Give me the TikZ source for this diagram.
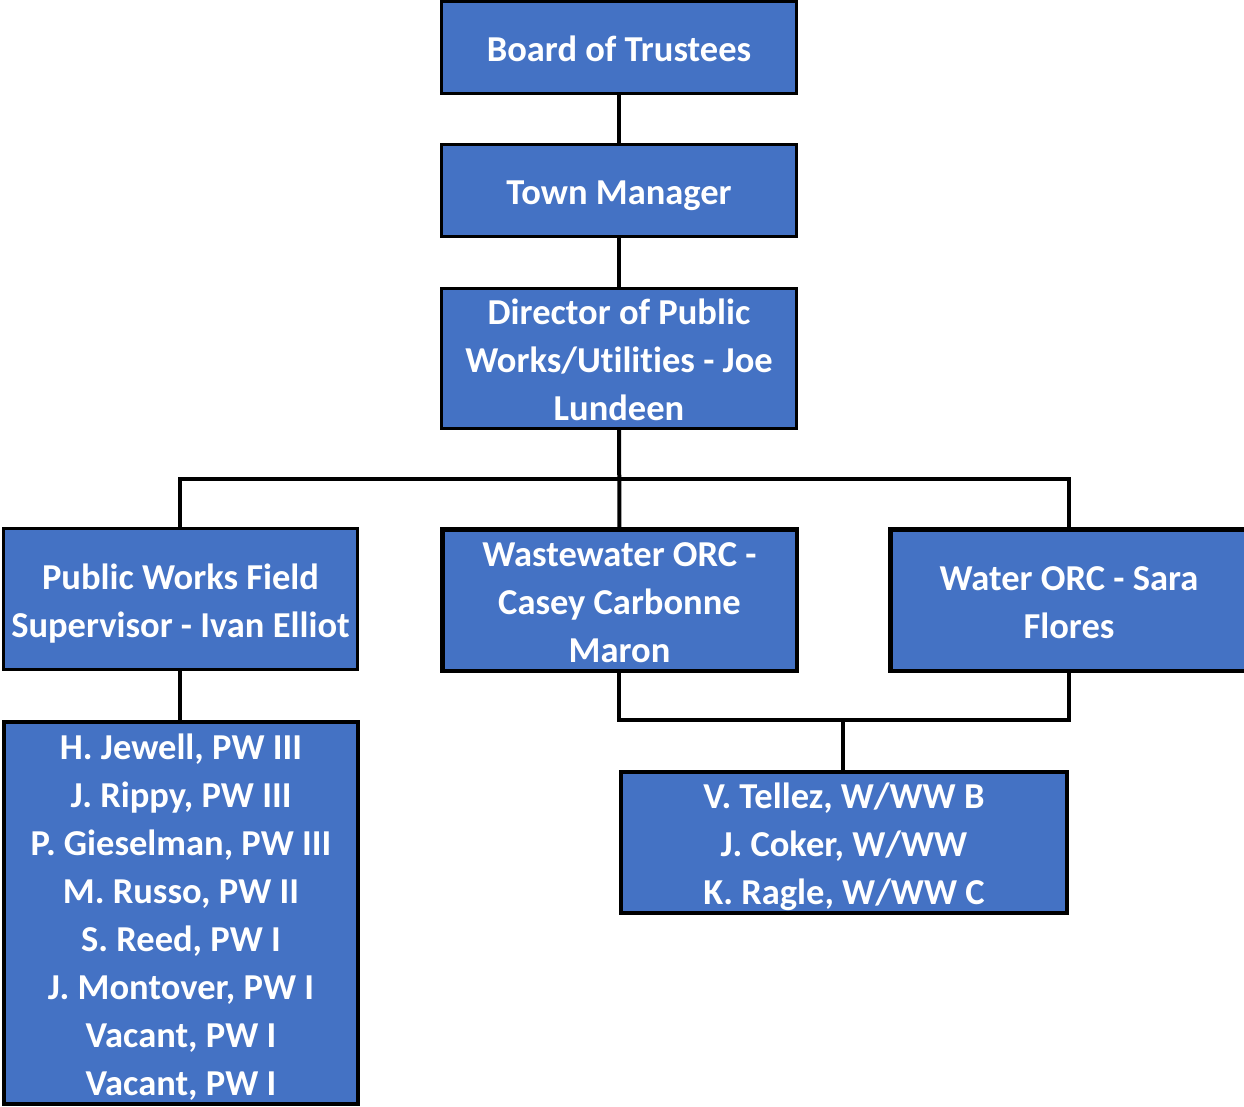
\documentclass[tikz,border=0pt]{standalone}
\usepackage{fontspec}
\setmainfont{Carlito}[Ligatures=NoCommon]
\definecolor{boxblue}{HTML}{4472C4}
% fixed line metrics: a tall strut on the first line, a deep one on the last,
% so every box centres its text by its lines and not by the glyphs' ink
\newcommand{\orgtop}{\rule{0pt}{40.4pt}}
\newcommand{\orgbot}{\rule[-12pt]{0pt}{12pt}}
\begin{document}
\begin{tikzpicture}[x=1pt,y=-1pt,
  orgbox/.style={draw=black, line width=3pt, fill=boxblue, text=white,
    font=\fontsize{36.5}{48}\selectfont\bfseries, align=center,
    inner xsep=0pt, inner ysep=-10pt,
    minimum width=355pt, minimum height=92pt},
  heavybox/.style={orgbox, line width=4.5pt},
  link/.style={draw=black, line width=4pt}]
\clip (0,0) rectangle (1244,1107);
\useasboundingbox (0,0) rectangle (1244,1107);

% top chain
\node[orgbox] (board) at (619,47.5) {\orgtop Board of Trustees\orgbot};
\node[orgbox] (tm) at (619,190.5) {\orgtop Town Manager\orgbot};
\node[orgbox, minimum height=140pt] (dir) at (619,358.5)
  {\orgtop Director of Public\\Works/Utilities - Joe\\Lundeen\orgbot};

% second level
\node[orgbox, minimum width=354pt, minimum height=141pt] (pwf) at (180.5,599)
  {\orgtop Public Works Field\\Supervisor - Ivan Elliot\orgbot};
\node[heavybox, minimum width=354.5pt, minimum height=141.5pt] (ww) at (619.5,600)
  {\orgtop Wastewater ORC -\\Casey Carbonne\\Maron\orgbot};
\node[heavybox, minimum width=357.5pt, minimum height=141.5pt] (wat) at (1069,600)
  {\orgtop Water ORC - Sara\\Flores\orgbot};

% staff boxes
\node[orgbox, line width=4pt, minimum width=354pt, minimum height=382pt] (crew) at (181,913)
  {\orgtop H. Jewell, PW III\\J. Rippy, PW III\\P. Gieselman, PW III\\M. Russo, PW II\\
   S. Reed, PW I\\J. Montover, PW I\\Vacant, PW I\\Vacant, PW I\orgbot};
\node[orgbox, line width=4pt, minimum width=446pt, minimum height=141pt] (ops) at (844,842.5)
  {\orgtop V. Tellez, W/WW B\\J. Coker, W/WW\\K. Ragle, W/WW C\orgbot};

% connectors
\coordinate (bus) at (619,479);
\coordinate (lowbus) at (843,720);
\draw[link] (board) -- (tm);
\draw[link] (tm) -- (dir);
\draw[link] (dir) -- (ww);
\draw[link] (pwf.north -| 180,0) |- (bus) -| (wat.north);
\draw[link] (pwf.south -| 180,0) -- (crew.north -| 180,0);
\draw[link] (ww.south -| 619,0) |- (lowbus) -| (wat.south);
\draw[link] (lowbus) -- (ops.north -| lowbus);
\end{tikzpicture}
\end{document}
